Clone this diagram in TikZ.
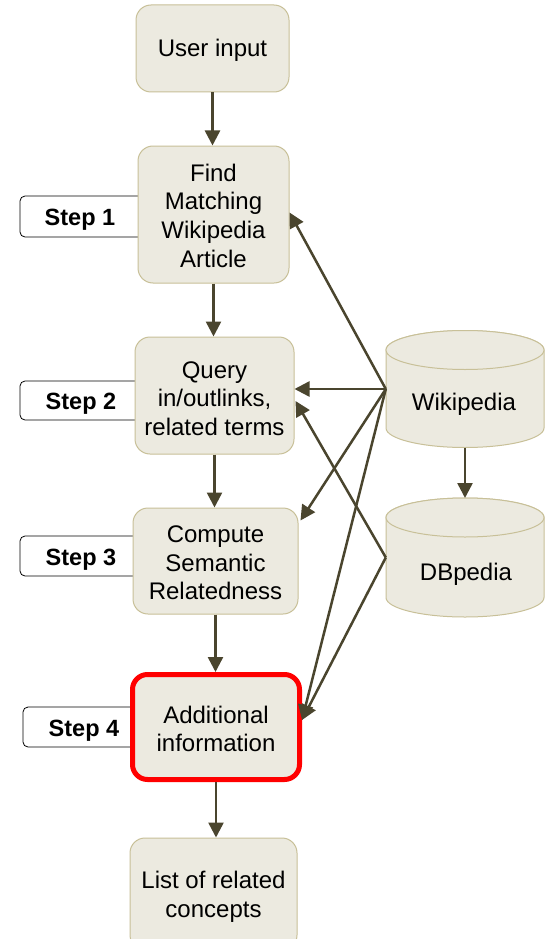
\documentclass[tikz,border=0pt]{standalone}
\usepackage{fontspec}
\setmainfont{Liberation Sans}
\usetikzlibrary{arrows.meta,calc}
\definecolor{boxfill}{RGB}{236,234,224}
\definecolor{boxline}{RGB}{200,192,152}
\definecolor{arr}{RGB}{74,69,46}
\begin{document}
\begin{tikzpicture}[x=1pt,y=-1pt,
  box/.style={draw=boxline, line width=1pt, fill=boxfill, rounded corners=15pt, inner sep=0pt},
  redbox/.style={box, draw=red, line width=5pt},
  boxtxt/.style={align=center, inner sep=0pt, font=\fontsize{24}{28.7}\selectfont},
  steplbl/.style={draw=black, line width=0.8pt, fill=white, rounded corners=5pt},
  steptxt/.style={font=\fontsize{23.5}{28}\selectfont\bfseries, inner sep=0pt},
  cyl/.style={draw=boxline, line width=1pt, fill=boxfill},
  hidden/.style={inner sep=0pt, minimum width=158pt, minimum height=117pt},
  flow/.style={draw=arr, line width=2.5pt, -{Triangle[length=15pt,width=15pt]}}]
\clip (0,0) rectangle (547,939);
\fill[white] (0,0) rectangle (547,939);

% step labels
\path[steplbl] (150,196) -- (20,196) -- (20,237) -- (150,237);
\node[steptxt] (s1) at (80,219.5) {Step 1};
\path[steplbl] (150,381) -- (20,381) -- (20,420) -- (150,420);
\node[steptxt] (s2) at (81,403.5) {Step 2};
\path[steplbl] (150,536) -- (20,536) -- (20,576) -- (150,576);
\node[steptxt] (s3) at (81,559.5) {Step 3};
\path[steplbl] (150,707) -- (23,707) -- (23,747) -- (150,747);
\node[steptxt] (s4) at (84,730.5) {Step 4};

% process boxes
\node[box, minimum width=153pt, minimum height=87pt] (user) at (212.5,48.5) {};
\node[boxtxt] (usert) at (212.5,50.5) {User input};
\node[box, minimum width=151pt, minimum height=137pt] (find) at (213.5,214.5) {};
\node[boxtxt] (findt) at (213.5,215.5) {Find\\Matching\\Wikipedia\\Article};
\node[box, minimum width=159pt, minimum height=117pt] (query) at (214.5,395.5) {};
\node[boxtxt] (queryt) at (214.5,398.5) {Query\\in/outlinks,\\related terms};
\node[box, minimum width=165pt, minimum height=106pt] (comp) at (215.5,561) {};
\node[boxtxt] (compt) at (215.5,563) {Compute\\Semantic\\Relatedness};
\node[redbox, minimum width=167pt, minimum height=105pt] (addl) at (216,727) {};
\node[boxtxt] (addlt) at (216,729) {Additional\\information};
\node[box, minimum width=167pt, minimum height=112pt] (list) at (213.5,894) {};
\node[boxtxt] (listt) at (213.5,896.5) {List of related\\concepts};

% cylinders
\node[hidden] (wiki) at (465,389) {};
\path[cyl] (386,350) -- (386,428) arc[start angle=180,end angle=360,x radius=79pt,y radius=19.5pt] -- (544,350) arc[start angle=0,end angle=180,x radius=79pt,y radius=19.5pt] -- cycle;
\draw[cyl] (465,350) ellipse[x radius=79pt,y radius=19.5pt];
\node[boxtxt] (wikitxt) at (464,404.5) {Wikipedia};

\node[hidden, minimum height=119pt] (dbp) at (465,557.5) {};
\path[cyl] (386,517.5) -- (386,597.5) arc[start angle=180,end angle=360,x radius=79pt,y radius=19.5pt] -- (544,517.5) arc[start angle=0,end angle=180,x radius=79pt,y radius=19.5pt] -- cycle;
\draw[cyl] (465,517.5) ellipse[x radius=79pt,y radius=19.5pt];
\node[boxtxt] (dbptxt) at (466,574) {DBpedia};

% vertical flow
\draw[flow] (user.south) -- (user.south |- find.north);
\draw[flow] (find.south) -- (find.south |- query.north);
\draw[flow] (query.south) -- (query.south |- comp.north);
\draw[flow] (comp.south) -- (comp.south |- addl.north);
\draw[flow] (addl.south) -- (addl.south |- list.north);
\draw[flow] (wiki.south) -- (wiki.south |- 0,498);

% data arrows
\draw[flow] (wiki.west) -- ([yshift=2pt]find.east);
\draw[flow] (wiki.west) -- (query.east |- wiki.west);
\draw[flow] (wiki.west) -- ([xshift=2pt,yshift=-13pt]comp.north east);
\draw[flow] (wiki.west) -- ([yshift=7pt]addl.east);
\draw[flow] (dbp.west) -- ([xshift=1pt,yshift=-5.5pt]query.east);
\draw[flow] (dbp.west) -- ([yshift=7pt]addl.east);
\end{tikzpicture}
\end{document}
